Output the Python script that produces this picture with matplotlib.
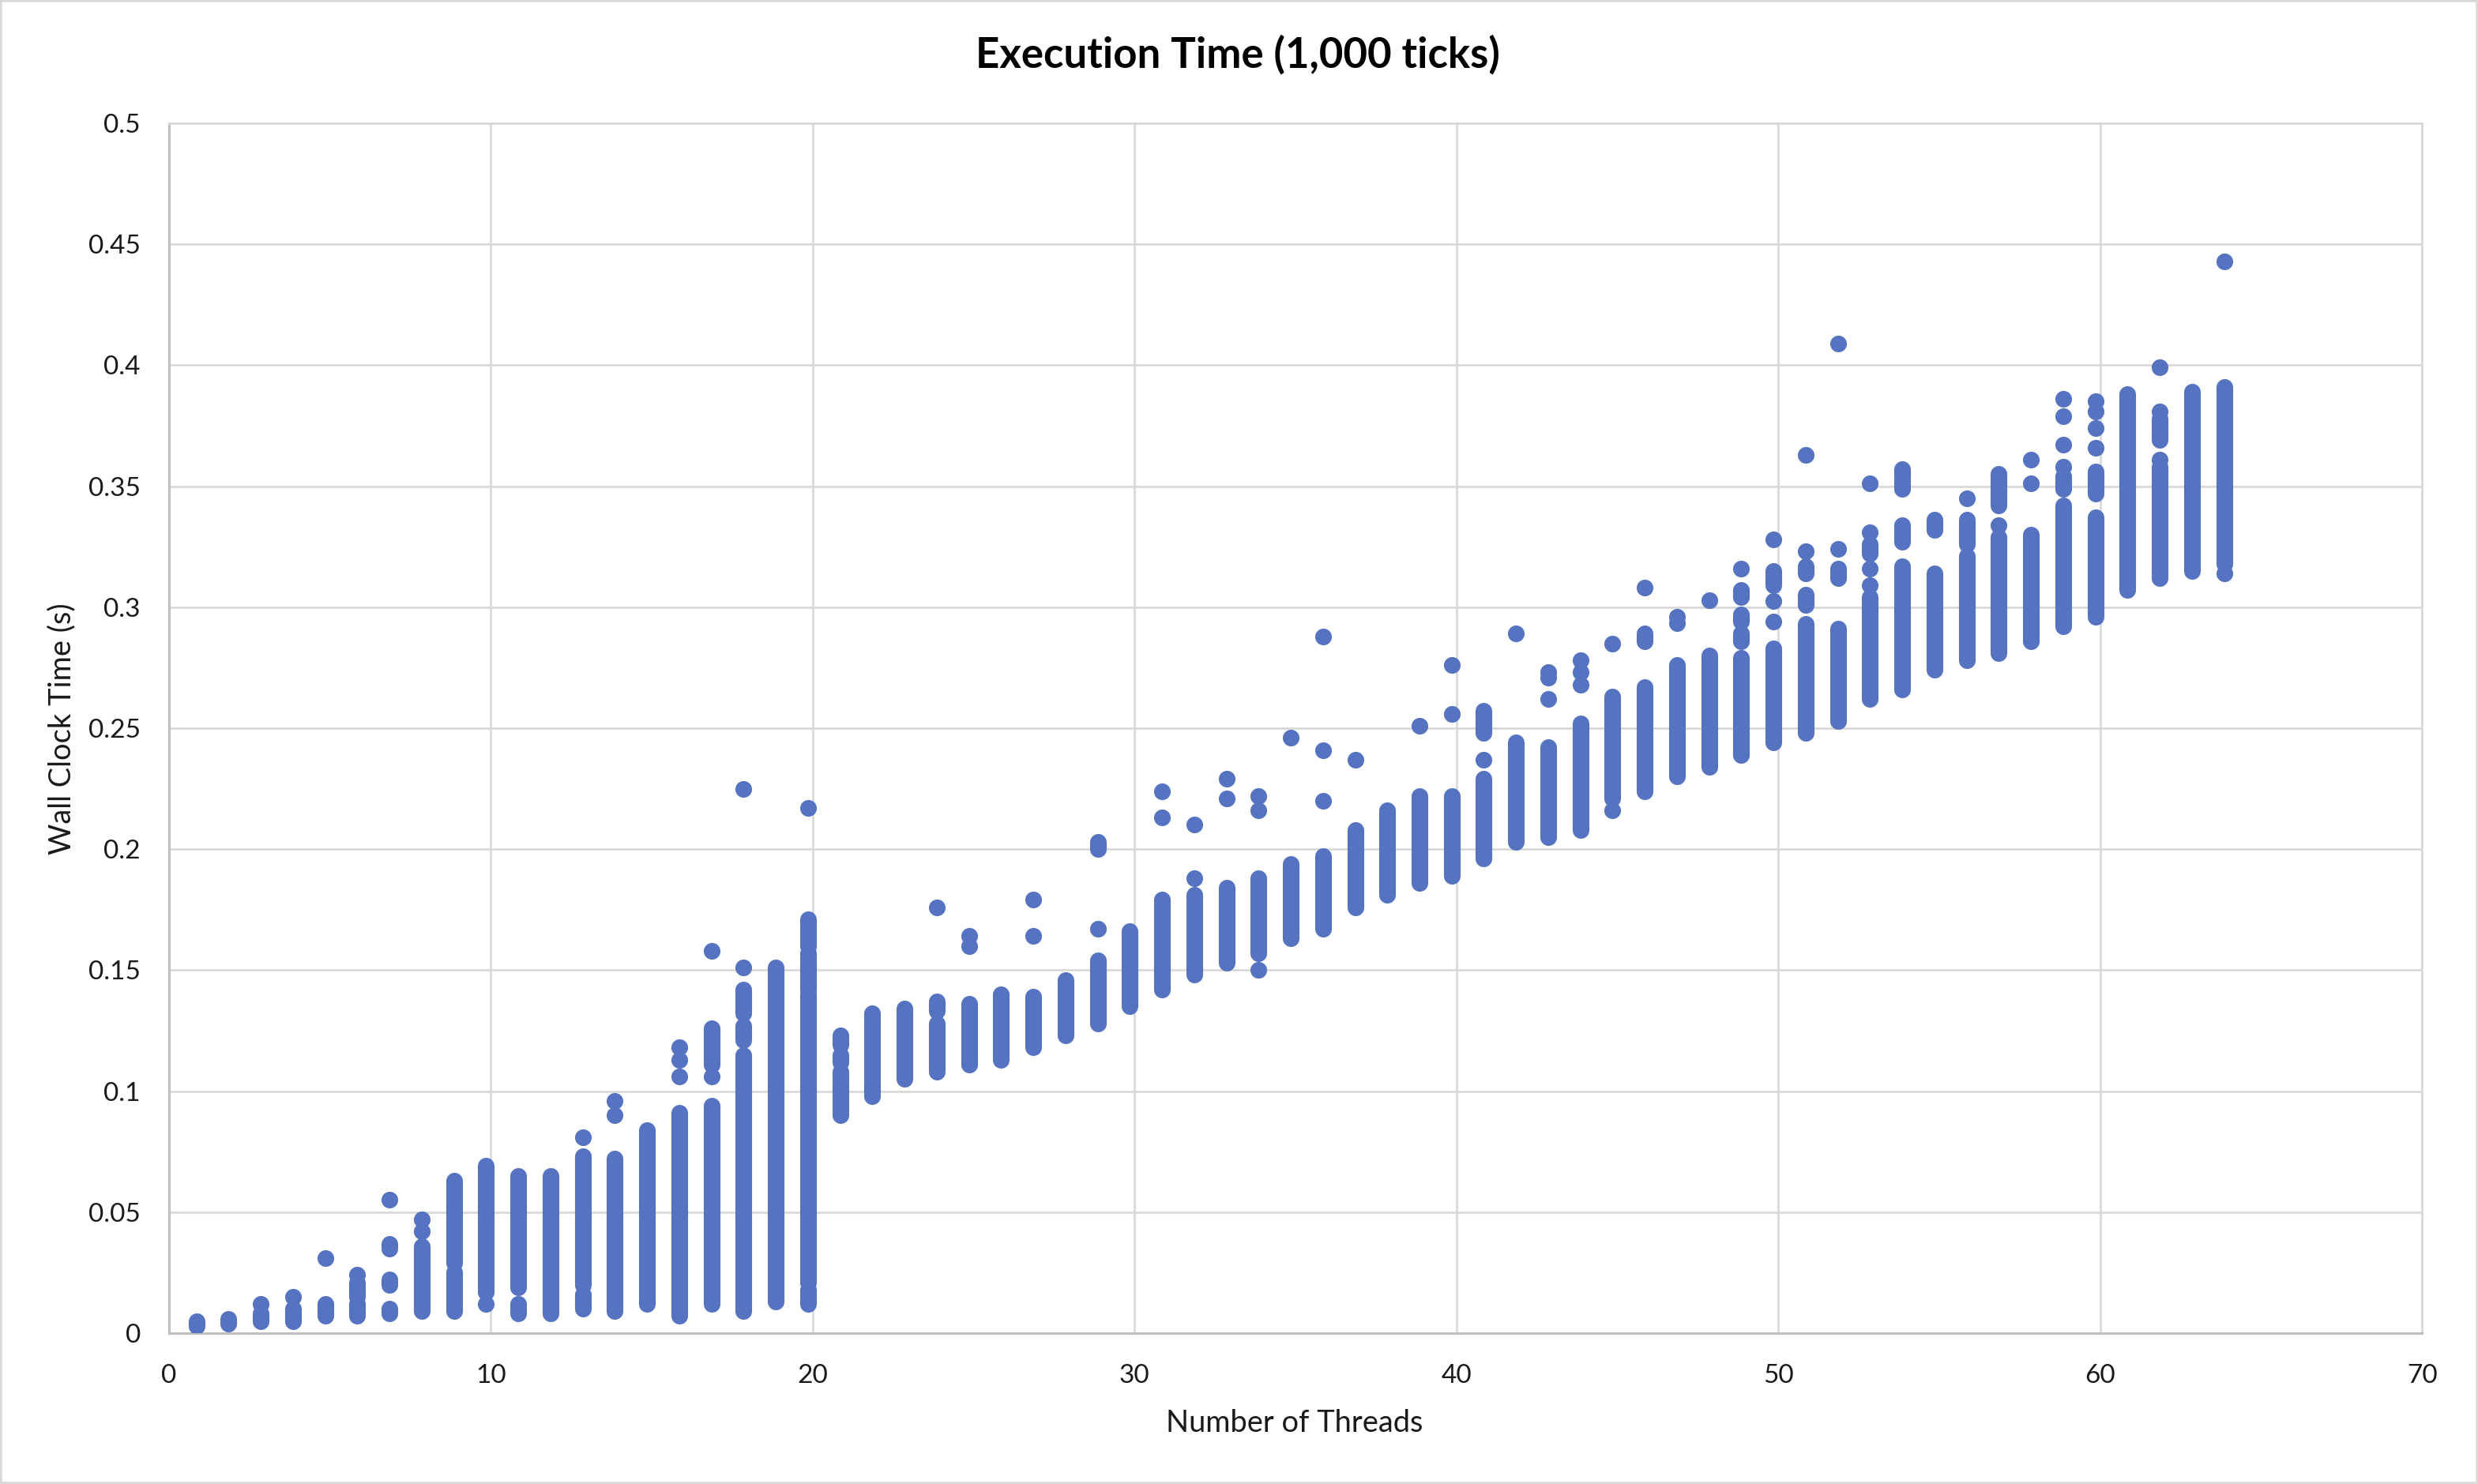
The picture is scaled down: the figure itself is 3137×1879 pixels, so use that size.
import matplotlib
matplotlib.use('Agg')
import matplotlib.pyplot as plt
import matplotlib.transforms as mtransforms
from matplotlib.patches import Rectangle
from matplotlib.ticker import FuncFormatter, MultipleLocator

# dense runs of overlapping dots: thread count, lowest and highest time (s)
band_threads = [1, 2, 3, 4, 5, 6, 6, 7, 7, 7,
                8, 9, 9, 10, 11, 11, 12, 13, 13, 14,
                15, 16, 17, 17, 18, 18, 18, 19, 20, 20,
                20, 20, 21, 21, 21, 22, 23, 24, 24, 25,
                26, 27, 28, 29, 29, 30, 31, 32, 33, 34,
                35, 36, 37, 38, 39, 40, 41, 41, 42, 43,
                44, 45, 46, 46, 47, 48, 49, 49, 49, 49,
                50, 50, 51, 51, 51, 52, 52, 53, 53, 54,
                54, 54, 55, 55, 56, 56, 57, 57, 58, 59,
                59, 60, 60, 61, 62, 62, 63, 64]
band_low = [0.003, 0.004, 0.005, 0.005, 0.007, 0.007, 0.015, 0.008, 0.020, 0.035,
            0.009, 0.009, 0.029, 0.017, 0.008, 0.019, 0.008, 0.010, 0.020, 0.009,
            0.012, 0.007, 0.111, 0.012, 0.132, 0.121, 0.009, 0.013, 0.160, 0.142,
            0.021, 0.012, 0.119, 0.112, 0.090, 0.098, 0.105, 0.133, 0.108, 0.111,
            0.113, 0.118, 0.123, 0.200, 0.128, 0.135, 0.142, 0.148, 0.153, 0.157,
            0.163, 0.167, 0.176, 0.181, 0.186, 0.189, 0.248, 0.196, 0.203, 0.205,
            0.208, 0.221, 0.286, 0.224, 0.230, 0.234, 0.304, 0.294, 0.286, 0.239,
            0.309, 0.244, 0.314, 0.301, 0.248, 0.312, 0.253, 0.322, 0.262, 0.349,
            0.327, 0.266, 0.332, 0.274, 0.326, 0.278, 0.342, 0.281, 0.286, 0.349,
            0.292, 0.347, 0.296, 0.307, 0.369, 0.312, 0.315, 0.318]
band_high = [0.005, 0.006, 0.008, 0.010, 0.012, 0.012, 0.021, 0.010, 0.022, 0.037,
             0.036, 0.025, 0.063, 0.069, 0.012, 0.065, 0.065, 0.016, 0.073, 0.072,
             0.084, 0.091, 0.126, 0.094, 0.142, 0.127, 0.115, 0.151, 0.171, 0.157,
             0.140, 0.018, 0.123, 0.115, 0.108, 0.132, 0.134, 0.137, 0.128, 0.136,
             0.140, 0.139, 0.146, 0.203, 0.154, 0.166, 0.179, 0.181, 0.184, 0.188,
             0.194, 0.197, 0.208, 0.216, 0.222, 0.222, 0.257, 0.229, 0.244, 0.242,
             0.252, 0.263, 0.289, 0.267, 0.276, 0.280, 0.307, 0.297, 0.289, 0.279,
             0.315, 0.283, 0.317, 0.305, 0.293, 0.316, 0.291, 0.326, 0.304, 0.357,
             0.334, 0.317, 0.336, 0.314, 0.336, 0.321, 0.355, 0.329, 0.330, 0.354,
             0.342, 0.356, 0.337, 0.388, 0.378, 0.358, 0.389, 0.391]

# single, separated dots
dot_threads = [3, 4, 5, 6, 7, 8, 8, 10, 13, 14,
               14, 16, 16, 16, 17, 17, 18, 18, 20, 24,
               25, 25, 27, 27, 29, 31, 31, 32, 32, 33,
               33, 34, 34, 34, 35, 36, 36, 36, 37, 39,
               40, 40, 41, 42, 43, 43, 43, 44, 44, 44,
               45, 45, 46, 47, 47, 48, 49, 50, 50, 50,
               51, 51, 52, 52, 53, 53, 53, 53, 56, 57,
               58, 58, 59, 59, 59, 59, 60, 60, 60, 60,
               62, 62, 62, 64, 64]
dot_times = [0.012, 0.015, 0.031, 0.024, 0.055, 0.042, 0.047, 0.012, 0.081, 0.096,
             0.090, 0.118, 0.113, 0.106, 0.158, 0.106, 0.225, 0.151, 0.217, 0.176,
             0.164, 0.160, 0.179, 0.164, 0.167, 0.224, 0.213, 0.210, 0.188, 0.229,
             0.221, 0.222, 0.216, 0.150, 0.246, 0.288, 0.241, 0.220, 0.237, 0.251,
             0.276, 0.256, 0.237, 0.289, 0.273, 0.271, 0.262, 0.278, 0.273, 0.268,
             0.285, 0.216, 0.308, 0.296, 0.2935, 0.303, 0.316, 0.328, 0.3026, 0.294,
             0.363, 0.323, 0.409, 0.324, 0.351, 0.331, 0.316, 0.309, 0.345, 0.334,
             0.361, 0.351, 0.386, 0.379, 0.367, 0.358, 0.385, 0.381, 0.374, 0.366,
             0.399, 0.381, 0.361, 0.443, 0.314]

x_ticks = [0, 10, 20, 30, 40, 50, 60, 70]

dot_color = '#5673C1'
grid_color = '#D9D9D9'
text_color = '#1A1A1A'
dot_size = 7.6  # points

plt.rcParams['font.family'] = ['Lato', 'DejaVu Sans']

fig = plt.figure(figsize=(3137 / 200, 1879 / 200), dpi=200)
ax = fig.add_axes([0.0682, 0.1017, 0.9092, 0.8153])

# Excel draws its markers a few pixels left of the tick position
shift = mtransforms.ScaledTranslation(-0.03, 0, fig.dpi_scale_trans)

ax.vlines(band_threads, band_low, band_high, colors=dot_color,
          linewidth=dot_size, capstyle='round', zorder=3,
          transform=ax.transData + shift)
ax.scatter(dot_threads, dot_times, s=dot_size ** 2, color=dot_color,
           linewidths=0, zorder=3, transform=ax.transData + shift)

ax.set_xlim(0, 70)
ax.set_ylim(0, 0.5)
ax.set_xticks(x_ticks)
ax.yaxis.set_major_locator(MultipleLocator(0.05))
ax.yaxis.set_major_formatter(FuncFormatter(lambda v, p: f'{round(v, 3):g}'))

ax.set_axisbelow(True)
ax.grid(True, color=grid_color, linewidth=1.0)
for side in ['left', 'bottom']:
    ax.spines[side].set_color('#BFBFBF')
    ax.spines[side].set_linewidth(1.1)
for side in ['top', 'right']:
    ax.spines[side].set_color(grid_color)
    ax.spines[side].set_linewidth(1.0)

ax.tick_params(axis='both', length=0, labelsize=12, labelcolor=text_color)
ax.tick_params(axis='x', pad=14)
ax.tick_params(axis='y', pad=13)

fig.text(0.4995, 0.963, 'Execution Time (1,000 ticks)', ha='center', va='center',
         fontsize=19, fontweight='bold', color='black')
fig.text(0.5225, 0.041, 'Number of Threads', ha='center', va='center',
         fontsize=13.7, color=text_color)
fig.text(0.0249, 0.509, 'Wall Clock Time (s)', ha='center', va='center',
         rotation=90, fontsize=13.7, color=text_color)

fig.patches.append(Rectangle((0, 0), 1, 1, transform=fig.transFigure, fill=False,
                             edgecolor=grid_color, linewidth=2.0))

fig.savefig('out.png', dpi=200)
